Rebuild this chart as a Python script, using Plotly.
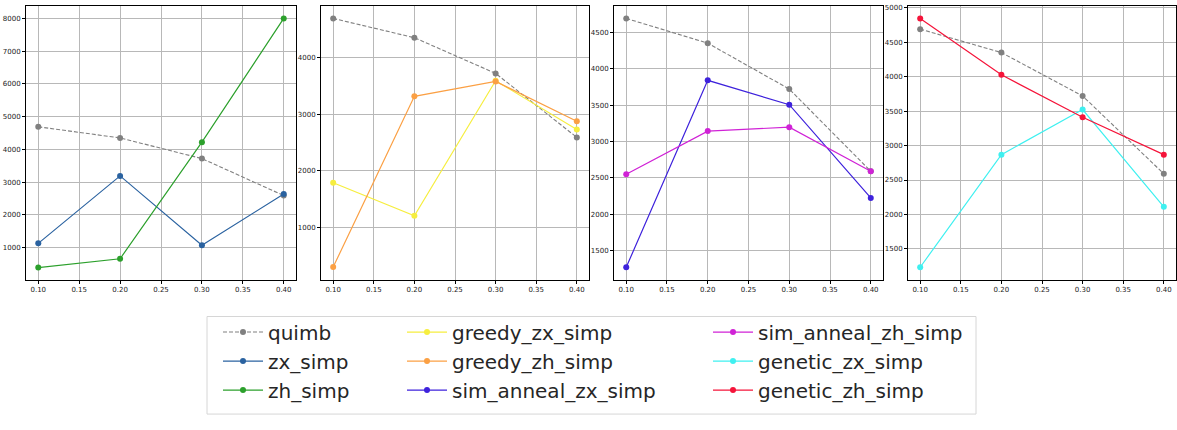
import plotly.graph_objects as go

W, H = 1177, 430

x_vals = [0.1, 0.2, 0.3, 0.4]

quimb = [4690, 4350, 3720, 2590]
zx_simp = [1130, 3190, 1070, 2640]
zh_simp = [390, 660, 4220, 8000]
greedy_zx_simp = [1790, 1205, 3590, 2730]
greedy_zh_simp = [300, 3315, 3578, 2875]
sim_anneal_zx_simp = [1272, 3840, 3505, 2225]
sim_anneal_zh_simp = [2549, 3142, 3196, 2590]
genetic_zx_simp = [1234, 2868, 3523, 2111]
genetic_zh_simp = [4845, 4027, 3410, 2868]

colors = {
    "quimb": "#808080",
    "zx_simp": "#2a62a0",
    "zh_simp": "#2ca02c",
    "greedy_zx_simp": "#f6ee3f",
    "greedy_zh_simp": "#fba044",
    "sim_anneal_zx_simp": "#3e22dc",
    "sim_anneal_zh_simp": "#d022d6",
    "genetic_zx_simp": "#3ff0f0",
    "genetic_zh_simp": "#f5143a",
}

panels = [
    [("zx_simp", zx_simp, "legend"), ("zh_simp", zh_simp, "legend")],
    [("greedy_zx_simp", greedy_zx_simp, "legend2"), ("greedy_zh_simp", greedy_zh_simp, "legend2")],
    [("sim_anneal_zx_simp", sim_anneal_zx_simp, "legend2"), ("sim_anneal_zh_simp", sim_anneal_zh_simp, "legend3")],
    [("genetic_zx_simp", genetic_zx_simp, "legend3"), ("genetic_zh_simp", genetic_zh_simp, "legend3")],
]

y_ranges = [[20, 8380], [77, 4910], [1101, 4861], [1053, 5026]]
y_ticks = [
    [1000, 2000, 3000, 4000, 5000, 6000, 7000, 8000],
    [1000, 2000, 3000, 4000],
    [1500, 2000, 2500, 3000, 3500, 4000, 4500],
    [1500, 2000, 2500, 3000, 3500, 4000, 4500, 5000],
]
x_ticks = [0.10, 0.15, 0.20, 0.25, 0.30, 0.35, 0.40]

px_domains = [(26, 296), (321, 589), (614, 883), (908, 1176)]
y_dom = [1 - 279 / H, 1 - 4 / H]

fig = go.Figure()

for i, series in enumerate(panels):
    xa = "x" if i == 0 else f"x{i+1}"
    ya = "y" if i == 0 else f"y{i+1}"
    fig.add_trace(go.Scatter(
        x=x_vals, y=quimb, name="quimb", mode="lines+markers",
        line=dict(color=colors["quimb"], width=1.1, dash="4px,2px"),
        marker=dict(color=colors["quimb"], size=6),
        xaxis=xa, yaxis=ya, showlegend=(i == 0), legend="legend",
    ))
for i, series in enumerate(panels):
    xa = "x" if i == 0 else f"x{i+1}"
    ya = "y" if i == 0 else f"y{i+1}"
    for name, vals, leg in series:
        fig.add_trace(go.Scatter(
            x=x_vals, y=vals, name=name, mode="lines+markers",
            line=dict(color=colors[name], width=1.2),
            marker=dict(color=colors[name], size=6),
            xaxis=xa, yaxis=ya, legend=leg,
        ))

axis_common = dict(
    showline=True, linecolor="black", linewidth=1, mirror=True,
    showgrid=True, gridcolor="#b8b8b8", gridwidth=1,
    ticks="outside", ticklen=3, tickcolor="black", tickwidth=0.8,
    tickfont=dict(family="DejaVu Sans", size=7, color="#222"),
    zeroline=False,
)

for i in range(4):
    sx = "" if i == 0 else str(i + 1)
    a, b = px_domains[i]
    fig.layout[f"xaxis{sx}"] = dict(
        domain=[a / W, b / W], anchor=f"y{sx}", range=[0.085, 0.415],
        tickvals=x_ticks, ticktext=[f"{v:.2f}" for v in x_ticks],
        **axis_common,
    )
    fig.layout[f"yaxis{sx}"] = dict(
        domain=y_dom, anchor=f"x{sx}", range=y_ranges[i],
        tickvals=y_ticks[i], ticktext=[str(v) for v in y_ticks[i]],
        **axis_common,
    )

leg_font = dict(family="DejaVu Sans", size=20, color="#262626")
leg_common = dict(
    orientation="v", xanchor="left", yanchor="top", bgcolor="rgba(0,0,0,0)",
    borderwidth=0, font=leg_font, tracegroupgap=0, itemwidth=40,
)
leg_top = 1 - 312 / H
fig.update_layout(
    width=W, height=H,
    margin=dict(l=0, r=0, t=0, b=0),
    paper_bgcolor="white", plot_bgcolor="white",
    legend=dict(x=218 / W, y=leg_top, **leg_common),
    legend2=dict(x=402 / W, y=leg_top, **leg_common),
    legend3=dict(x=708 / W, y=leg_top, **leg_common),
    shapes=[dict(
        type="rect", xref="paper", yref="paper",
        x0=207 / W, x1=976 / W, y0=1 - 414 / H, y1=1 - 316 / H,
        line=dict(color="#d6d6d6", width=1), fillcolor="rgba(0,0,0,0)",
        layer="below",
    )],
)

fig.write_html(
    "out.html",
    config={"displayModeBar": False},
    post_script="document.body.style.margin='0';document.body.style.padding='0';",
)
